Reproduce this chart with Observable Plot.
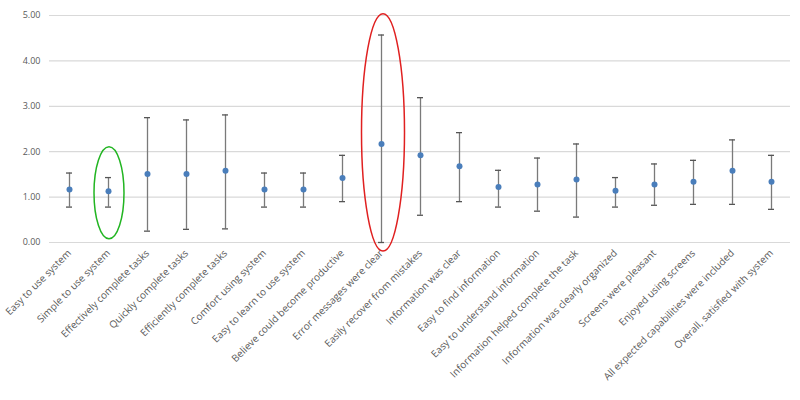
<!DOCTYPE html>
<html><head><meta charset="utf-8">
<script src="https://cdn.jsdelivr.net/npm/d3@7"></script>
<script src="https://cdn.jsdelivr.net/npm/@observablehq/plot@0.6"></script>
<style>body{margin:0;background:#fff;font-family:"Open Sans",sans-serif}</style>
</head><body><div id="chart"></div>
<script>
const categories = ["Easy to use system","Simple to use system","Effectively complete tasks","Quickly complete tasks","Efficiently complete tasks","Comfort using system","Easy to learn to use system","Believe could become productive","Error messages were clear","Easily recover from mistakes","Information was clear","Easy to find information","Easy to understand information","Information helped complete the task","Information was clearly organized","Screens were pleasant","Enjoyed using screens","All expected capabilities were included","Overall, satisfied with system"];
const means = [1.17,1.13,1.51,1.51,1.58,1.17,1.17,1.42,2.17,1.92,1.68,1.22,1.28,1.39,1.14,1.28,1.34,1.58,1.34];
const highs = [1.53,1.43,2.75,2.70,2.81,1.53,1.53,1.92,4.57,3.19,2.42,1.59,1.86,2.17,1.43,1.73,1.81,2.26,1.92];
const lows  = [0.78,0.78,0.25,0.29,0.30,0.78,0.78,0.90,0.00,0.60,0.90,0.78,0.69,0.56,0.78,0.82,0.84,0.84,0.73];
const yTicks = [0,1,2,3,4,5];
// highlight ellipses: category, y-top, y-bottom
const highlightCats = ["Simple to use system","Error messages were clear"];
const highlightTop = [2.10, 5.03];
const highlightBottom = [0.07, -0.20];
const highlightColors = ["#22b522","#e02020"];

const data = categories.map((c,i)=>({cat:c, mean:means[i], hi:highs[i], lo:lows[i]}));

const plot = Plot.plot({
  width: 800, height: 400,
  marginLeft: 49, marginRight: 10, marginTop: 15, marginBottom: 158,
  style: {fontFamily: "Open Sans, sans-serif", color: "#595959", background: "#fff", overflow: "visible"},
  x: {type: "point", domain: categories, padding: 0.5, label: null},
  y: {domain: [0,5], label: null},
  marks: [
    Plot.gridY(yTicks, {stroke: "#d9d9d9", strokeOpacity: 1, strokeWidth: 1.2}),
    Plot.axisY(yTicks, {tickSize: 0, tickPadding: 9, tickFormat: d => d.toFixed(2), fontSize: 9, fill: "#595959", label: null}),
    Plot.axisX({tickSize: 0, tickPadding: 9, tickRotate: -45, fontSize: 10, fill: "#595959", label: null, textAnchor: "end"}),
    Plot.ruleX(data, {x: "cat", y1: "lo", y2: "hi", stroke: "#7a7a7a", strokeWidth: 1.3}),
    Plot.ruleY(data, {x1: "cat", x2: "cat", y: "hi", insetLeft: -3, insetRight: -3, stroke: "#555", strokeWidth: 1.3}),
    Plot.ruleY(data, {x1: "cat", x2: "cat", y: "lo", insetLeft: -3, insetRight: -3, stroke: "#555", strokeWidth: 1.3}),
    Plot.dot(data, {x: "cat", y: "mean", r: 3, fill: "#4a7ebb", stroke: "none"})
  ]
});
document.getElementById("chart").appendChild(plot);

const sx = plot.scale("x"), sy = plot.scale("y");
const svg = d3.select(plot);
highlightCats.forEach((c,i)=>{
  const cx = sx.apply(c);
  const yt = sy.apply(highlightTop[i]), yb = sy.apply(highlightBottom[i]);
  svg.append("ellipse")
    .attr("cx", cx + (i===0 ? 1 : 2)).attr("cy", (yt+yb)/2)
    .attr("rx", i===0 ? 15 : 21.5).attr("ry", Math.abs(yb-yt)/2)
    .attr("fill","none").attr("stroke", highlightColors[i]).attr("stroke-width", 1.5);
});
</script></body></html>
